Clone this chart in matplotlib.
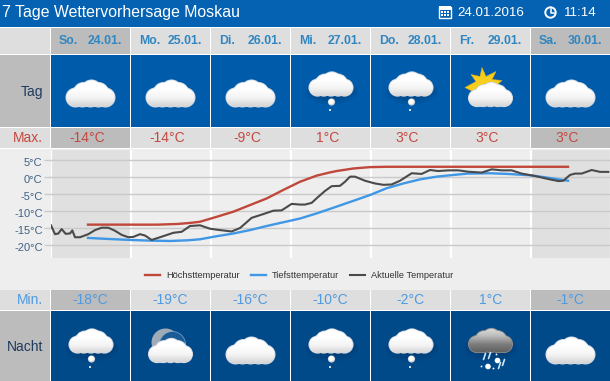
import numpy as np
import matplotlib
matplotlib.use('Agg')
import matplotlib.pyplot as plt
from matplotlib.patches import Rectangle, Circle, Ellipse, Polygon, PathPatch
from matplotlib.path import Path
from matplotlib.colors import LinearSegmentedColormap
from matplotlib.transforms import ScaledTranslation

plt.rcParams['font.family'] = ['Liberation Sans', 'DejaVu Sans']

days = ['So.', 'Mo.', 'Di.', 'Mi.', 'Do.', 'Fr.', 'Sa.']
dates = ['24.01.', '25.01.', '26.01.', '27.01.', '28.01.', '29.01.', '30.01.']
max_temp = ['-14°C', '-14°C', '-9°C', '1°C', '3°C', '3°C', '3°C']
min_temp = ['-18°C', '-19°C', '-16°C', '-10°C', '-2°C', '1°C', '-1°C']
day_icons = ['cloud', 'cloud', 'cloud', 'drop', 'drop', 'sun', 'cloud']
night_icons = ['drop', 'moon', 'cloud', 'drop', 'drop', 'rain', 'cloud']
temp_ticks = [5, 0, -5, -10, -15, -20]
temp_labels = ['5°C', '0°C', '-5°C', '-10°C', '-15°C', '-20°C']

# hours since 24.01. 00:00
high_h = [11.1, 23.7, 32.0, 38.0, 41.7, 44.7, 49.7, 54.7, 59.7, 64.7, 69.7, 74.7, 79.7, 83.7, 85.7, 90.7, 95.7, 100.7, 119.7, 155.1]
high_t = [-13.9, -13.9, -13.9, -13.7, -13.4, -13.05, -11.6, -10.1, -8.15, -6.2, -3.7, -1.3, 0.5, 1.45, 1.85, 2.6, 3.0, 3.1, 3.1, 3.1]
low_h = [11.1, 17.0, 23.7, 30.0, 35.7, 41.0, 44.7, 49.7, 54.7, 59.7, 64.7, 69.7, 74.7, 79.7, 85.7, 90.7, 95.7, 100.7, 105.7,
         110.7, 115.7, 119.7, 125.0, 131.7, 137.0, 143.7, 149.0, 155.1]
low_t = [-17.8, -18.1, -18.4, -18.6, -18.7, -18.5, -18.2, -17.3, -16.5, -15.5, -14.3, -13.2, -12.1, -10.6, -8.6, -6.9, -5.2,
         -3.2, -1.8, -0.6, 0.2, 0.6, 1.1, 1.2, 1.0, 0.6, -0.1, -1.0]
act_h = [0.0, 1.2, 2.2, 3.2, 4.4, 5.7, 6.4, 7.2, 8.7, 11.2, 13.2, 15.2, 17.2, 19.2, 21.2, 23.2, 24.7,
         26.7, 28.2, 30.2, 32.7, 36.7, 39.2, 41.7, 44.7, 47.7, 50.7, 54.2, 56.7, 60.2, 63.7, 66.7, 69.2,
         72.2, 74.7, 76.2, 78.2, 80.2, 82.2, 84.2, 86.7, 88.2, 89.7, 91.2, 94.2, 97.2, 99.7, 102.2, 104.7,
         108.2, 111.2, 113.7, 116.2, 119.2, 122.2, 125.2, 129.2, 132.2, 135.2, 138.2, 141.2, 145.2, 149.2,
         152.2, 153.7, 155.7, 157.2, 159.2, 162.2, 164.7, 167.2]
act_t = [-14.1, -16.7, -16.5, -15.2, -16.6, -16.5, -15.6, -17.6, -17.6, -16.7, -15.5, -14.8, -14.8, -15.7,
         -16.9, -17.6, -17.5, -16.7, -17.1, -18.4, -17.6, -16.3, -16.0, -14.3, -14.1, -15.1, -15.5, -15.9,
         -14.9, -11.9, -10.8, -9.8, -9.7, -7.8, -8.0, -8.0, -7.5, -5.7, -4.0, -2.6, -2.5, -1.3, 0.2, 0.2,
         -1.0, -1.8, -2.2, -2.1, -1.0, 1.2, 1.0, 2.15, 1.85, 2.05, 2.05, 1.65, 1.4, 2.35, 2.05, 2.05, 1.1,
         0.4, -0.5, -1.1, -1.0, 0.7, 1.1, 1.1, 2.15, 1.6, 1.6]

W, H = 610, 381
fig = plt.figure(figsize=(W / 100, H / 100), dpi=100, facecolor='white')
bg = fig.add_axes([0, 0, 1, 1])
bg.set_xlim(0, W)
bg.set_ylim(H, 0)
bg.axis('off')

white_cm = LinearSegmentedColormap.from_list('w', ['#ffffff', '#ffffff', '#f4f4f4', '#d2d2d2'])
grey_cm = LinearSegmentedColormap.from_list('g', ['#e0e0e0', '#bdbdbd', '#7c7c7c', '#5e5e5e'])
grad = np.linspace(0, 1, 64).reshape(-1, 1)


def rect(x0, y0, x1, y1, color):
    bg.add_patch(Rectangle((x0, y0), x1 - x0, y1 - y0, fc=color, ec='none'))


def cloud(cx, cy, scale=1.0, cm=white_cm, rim='#d4dae2'):
    lobes = [(-15, 4, 9.5), (15, 4, 9.5), (-7, -1, 10), (1, -3, 10.5), (8, -1, 10), (0, 4, 9.5), (-8, 4, 9.5), (8, 4, 9.5)]
    for grow, col in [(0.5, rim), (-0.4, None)]:
        circles = [Path.circle((cx + dx * scale, cy + dy * scale), r * scale + grow) for dx, dy, r in lobes]
        path = Path.make_compound_path(*circles)
        patch = PathPatch(path, fc=col if col else 'none', ec='none', zorder=4)
        bg.add_patch(patch)
    im = bg.imshow(grad, cmap=cm, extent=(cx - 30, cx + 30, cy + 14 * scale, cy - 14 * scale),
                   aspect='auto', zorder=5, interpolation='bilinear')
    im.set_clip_path(patch)


def shadow(cx, cy, color='#00305f'):
    for rx, ry, a in [(27, 13, 0.12), (24, 10, 0.15), (20, 7, 0.2)]:
        bg.add_patch(Ellipse((cx, cy), rx * 2, ry * 2, fc=color, ec='none', alpha=a, zorder=3))


def ball(cx, cy):
    bg.add_patch(Circle((cx, cy), 3.6, fc='#d4d4d4', ec='none', zorder=6))
    bg.add_patch(Circle((cx - 0.3, cy - 0.4), 2.6, fc='white', ec='none', zorder=6))
    bg.add_patch(Circle((cx - 1.5, cy + 8), 1.0, fc='white', ec='none', zorder=6))


def sun(cx, cy):
    pts = [(-20, 3), (-9, -3), (-14, -10), (-5, -8), (-3, -17), (1, -8), (11, -13), (7, -5),
           (17, -4), (10, 2), (10, 8), (-10, 8)]
    bg.add_patch(Polygon([(cx + x, cy + y) for x, y in pts], fc='#f6cf1e', ec='#e3ab12', lw=0.4, zorder=3))


def moon(cx, cy):
    bg.add_patch(Circle((cx, cy), 14, fc='#a0abb8', ec='none', zorder=3))
    bg.add_patch(Circle((cx + 7, cy + 2), 13, fc='#1c5c96', ec='#7fa6c8', lw=0.5, zorder=3))


def rain(cx, cy):
    for dx, dy in [(-7, 6), (-2, 5), (12, 12), (8, 15)]:
        bg.plot([cx + dx - 1, cx + dx + 1], [cy + dy + 3, cy + dy - 3], color='#cfe6f7', lw=1.2, zorder=6, solid_capstyle='round')
    for dx, dy, r in [(-3.5, 16, 2.8), (6, 10, 2.8)]:
        bg.add_patch(Circle((cx + dx, cy + dy), r, fc='white', ec='none', zorder=6))
    for dx, dy in [(-10, 16), (2, 18), (5, 4)]:
        bg.add_patch(Circle((cx + dx, cy + dy), 0.9, fc='white', ec='none', zorder=6))


def icon(kind, cx, base):
    # base = middle of a plain cloud
    if kind == 'cloud':
        cloud(cx, base)
    elif kind == 'drop':
        shadow(cx + 1, base - 2)
        cloud(cx + 0.5, base - 9.5, 0.9)
        ball(cx + 1, base + 8.5)
    elif kind == 'sun':
        sun(cx - 5.5, base - 9)
        cloud(cx, base + 1, 0.9)
    elif kind == 'moon':
        moon(cx - 5, base - 8)
        cloud(cx, base, 0.9)
    elif kind == 'rain':
        shadow(cx, base - 2)
        cloud(cx, base - 10, 0.9, grey_cm, '#8a8a8a')
        rain(cx + 1, base)


# page blocks
rect(0, 0, W, 27, '#0562b2')
rect(0, 27, W, 381, 'white')
rect(0, 28, 50, 54, '#dedede')
rect(0, 55, 50, 127, '#bcbcbc')
rect(0, 128, 50, 148, '#dedede')
rect(0, 149, W, 290, '#eeeeee')
rect(0, 290, 50, 310, '#dedede')
rect(0, 311, 50, H, '#bcbcbc')

for i in range(7):
    x0 = 51 + 80 * i
    x1 = x0 + 79
    cx = (x0 + x1) / 2
    shade = '#bcbcbc' if i in (0, 6) else '#dedede'
    rect(x0, 28, x1, 54, shade)
    rect(x0, 55, x1, 127, '#005cab')
    rect(x0, 128, x1, 148, shade)
    rect(x0, 290, x1, 310, shade)
    rect(x0, 311, x1, H, '#004a8a')
    bg.text(x0 + 8, 41.5, days[i], color='#2f86c1', fontsize=8.8, fontweight='bold', ha='left', va='center')
    bg.text(x0 + 71, 41.5, dates[i], color='#2f86c1', fontsize=8.8, fontweight='bold', ha='right', va='center')
    bg.text(cx - 3, 138.5, max_temp[i], color='#c5483e', fontsize=10, ha='center', va='center')
    bg.text(cx, 300.5, min_temp[i], color='#4f9ae0', fontsize=10, ha='center', va='center')
    icon(day_icons[i], cx, 93.5)
    icon(night_icons[i], cx, 350.5)

bg.set_xlim(0, W)
bg.set_ylim(H, 0)

# header
bg.text(2, 13, '7 Tage Wettervorhersage Moskau', color='white', fontsize=11.45, ha='left', va='center')
bg.text(457, 12.5, '24.01.2016', color='white', fontsize=9.6, ha='left', va='center')
bg.text(564, 12.5, '11:14', color='white', fontsize=9.6, ha='left', va='center')
# calendar symbol
bg.add_patch(Rectangle((438.5, 7), 12.5, 11, fc='none', ec='white', lw=1))
rect(438.5, 6, 451, 9.5, 'white')
for gx in (440.5, 443.5, 446.5):
    for gy in (11, 14):
        rect(gx, gy, gx + 2, gy + 2, 'white')
# clock symbol
bg.add_patch(Circle((550.5, 12.5), 5.2, fc='none', ec='white', lw=1.4))
bg.plot([550.5, 550.5, 553.5], [9, 12.8, 12.8], color='white', lw=1.1)

# row captions
bg.text(43, 92, 'Tag', color='#1f3a5f', fontsize=10, ha='right', va='center')
bg.text(43, 138.5, 'Max.', color='#c5483e', fontsize=10, ha='right', va='center')
bg.text(43, 300.5, 'Min.', color='#4f9ae0', fontsize=10, ha='right', va='center')
bg.text(43, 347, 'Nacht', color='#1f3a5f', fontsize=10, ha='right', va='center')

# temperature chart
ax = fig.add_axes([51 / W, 1 - 258 / H, 560 / W, 108 / H])
ax.set_xlim(0, 168)
ax.set_ylim(-23.7, 8.03)
ax.set_facecolor('#eeeeee')
ax.axvspan(0, 24, color='#e0e0e0', lw=0, zorder=0)
ax.axvspan(144, 168, color='#e0e0e0', lw=0, zorder=0)
ax.set_yticks(temp_ticks)
ax.set_yticklabels(temp_labels, color='#3f6286', fontsize=8)
ax.set_xticks(range(0, 169, 24))
ax.set_xticklabels([])
ax.tick_params(axis='x', length=0)
ax.tick_params(axis='y', length=5, width=1, color='#cccccc', pad=1)
ax.grid(axis='y', color='#cacaca', lw=1, zorder=1)
ax.grid(axis='x', color='white', lw=1.6, zorder=2)
ax.set_axisbelow(True)
for s in ax.spines.values():
    s.set_visible(False)
nudge = ScaledTranslation(0, -1.5 / 100, fig.dpi_scale_trans)
for t in ax.get_yticklabels():
    t.set_transform(t.get_transform() + nudge)

ax.plot(high_h, high_t, color='#c0483a', lw=1.7, label='Höchsttemperatur', zorder=3)
ax.plot(low_h, low_t, color='#3f97e6', lw=1.7, label='Tiefsttemperatur', zorder=3)
ax.plot(act_h, act_t, color='#4a4a4a', lw=1.5, label='Aktuelle Temperatur', zorder=4)

fig.legend(loc='center', bbox_to_anchor=(299.5 / W, 1 - 276 / H), ncol=3, frameon=False, fontsize=6.7,
           labelcolor='#333333', handlelength=1.55, handletextpad=0.7, columnspacing=1.2, borderpad=0, borderaxespad=0)

fig.savefig('out.png', dpi=100, facecolor='white')
